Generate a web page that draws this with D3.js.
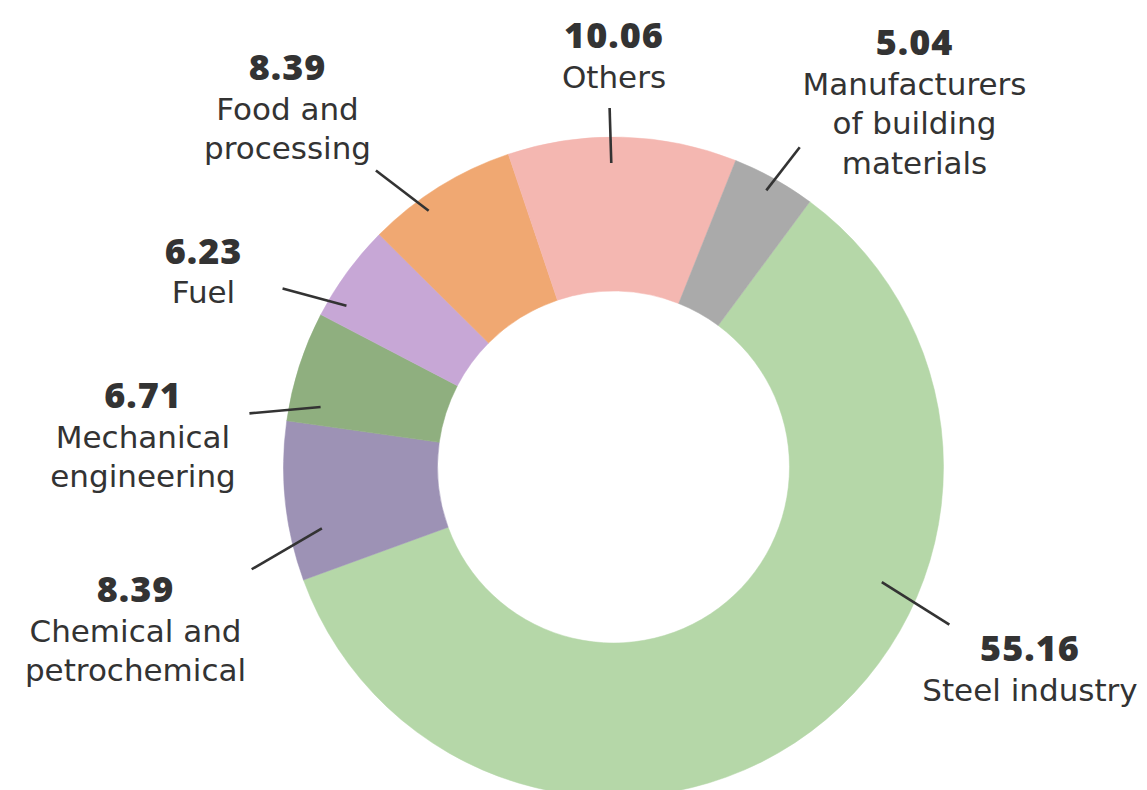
<!DOCTYPE html>
<html>
<head>
<meta charset="utf-8">
<script src="https://cdn.jsdelivr.net/npm/d3@7"></script>
<style>
  html, body { margin: 0; padding: 0; background: #fff; }
  svg { display: block; }
</style>
</head>
<body>
<div class="container"></div>
<script>
// categories, clockwise starting from the steel slice
const categories = ["Steel industry", "Chemical and petrochemical", "Mechanical engineering", "Fuel",
  "Food and processing", "Others", "Manufacturers of building materials"];
// values printed on the labels
const values = [55.16, 8.39, 6.71, 6.23, 8.39, 10.06, 5.04];
// share of the ring each slice takes in the picture (it does not follow the labels exactly)
const shares = [59.3, 7.8, 5.4, 4.8, 7.4, 11.2, 4.1];
// label text split into lines
const labelLines = [
  ["Steel industry"],
  ["Chemical and", "petrochemical"],
  ["Mechanical", "engineering"],
  ["Fuel"],
  ["Food and", "processing"],
  ["Others"],
  ["Manufacturers", "of building", "materials"]
];
const colors = ["#b5d7a8", "#9d92b5", "#8faf7f", "#c7a7d6", "#f0a872", "#f4b7b1", "#aaaaaa"];

const width = 1147, height = 790;
const cx = 613.5, cy = 467;
const outerR = 330, innerR = 176;
const lineGap = 39.5;

// where each label sits, and how its leader is tilted from the slice middle
// x, y = centre / baseline of the number; d1, d2 = angle offsets (deg) of leader ends; r1, r2 = radii
const layout = [
  { x: 1030, y: 661, d1: -30, r1: 292, d2: -28.1, r2: 371 },
  { x: 135.5, y: 602, d1: -5.9, r1: 298, d2: -9.8, r2: 376 },
  { x: 143, y: 408, d1: -6.2, r1: 299, d2: -9.4, r2: 368 },
  { x: 203.5, y: 263.5, d1: -5, r1: 312, d2: -7.8, r2: 376 },
  { x: 287.5, y: 80, d1: -3.9, r1: 316, d2: -6.8, r2: 380 },
  { x: 614, y: 48, d1: -2, r1: 304, d2: -2.2, r2: 359 },
  { x: 914.5, y: 55, d1: -0.2, r1: 316, d2: 1.1, r2: 370 }
];

const data = categories.map((c, i) => ({ name: c, value: values[i], share: shares[i], color: colors[i], lines: labelLines[i], pos: layout[i] }));

const startAngle = 36.5 * Math.PI / 180;

const pie = d3.pie()
  .sort(null)
  .value(d => d.share)
  .startAngle(startAngle)
  .endAngle(startAngle + 2 * Math.PI);

const arc = d3.arc()
  .innerRadius(innerR)
  .outerRadius(outerR);

const svg = d3.select(".container")
  .append("svg")
  .attr("width", width)
  .attr("height", height)
  .attr("viewBox", [0, 0, width, height]);

const g = svg.append("g")
  .attr("transform", `translate(${cx},${cy})`);

const arcs = pie(data);

// 圆环
g.append("g")
  .selectAll("path")
  .data(arcs)
  .join("path")
  .attr("d", arc)
  .attr("fill", d => d.data.color)
  .attr("stroke", d => d.data.color)
  .attr("stroke-width", 0.5);

// leader lines
const rad = deg => deg * Math.PI / 180;
g.append("g")
  .selectAll("line")
  .data(arcs)
  .join("line")
  .each(function (d) {
    const mid = (d.startAngle + d.endAngle) / 2;
    const p = d.data.pos;
    const a = d3.pointRadial(mid + rad(p.d1), p.r1);
    const b = d3.pointRadial(mid + rad(p.d2), p.r2);
    d3.select(this)
      .attr("x1", a[0]).attr("y1", a[1])
      .attr("x2", b[0]).attr("y2", b[1]);
  })
  .attr("stroke", "#333")
  .attr("stroke-width", 2.6);

// labels
const labels = svg.append("g")
  .selectAll("g")
  .data(data)
  .join("g")
  .attr("transform", d => `translate(${d.pos.x},${d.pos.y})`);

labels.append("text")
  .attr("text-anchor", "middle")
  .attr("font-family", "'Open Sans', sans-serif")
  .attr("font-weight", 800)
  .attr("font-size", 36)
  .attr("letter-spacing", 1)
  .attr("fill", "#333")
  .text(d => d3.format(".2f")(d.value));

labels.each(function (d) {
  d3.select(this).selectAll("text.name")
    .data(d.lines)
    .join("text")
    .attr("class", "name")
    .attr("text-anchor", "middle")
    .attr("y", (t, i) => (i + 1) * lineGap)
    .attr("font-family", "'DejaVu Sans', sans-serif")
    .attr("font-size", 31)
    .attr("fill", "#333")
    .text(t => t);
});
</script>
</body>
</html>
